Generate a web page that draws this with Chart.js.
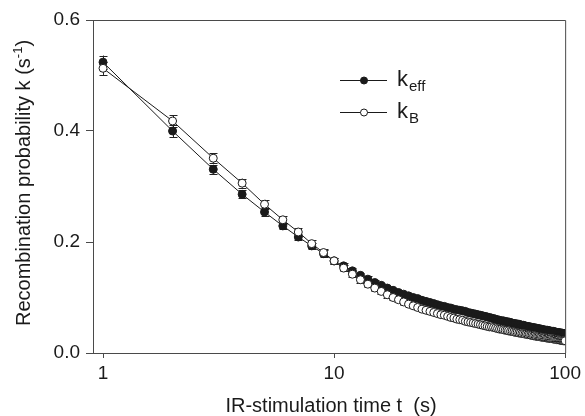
<!DOCTYPE html>
<html>
<head>
<meta charset="utf-8">
<script src="https://cdn.jsdelivr.net/npm/chart.js@4/dist/chart.umd.min.js"></script>
<style>
  html, body { margin: 0; padding: 0; background: #fff; }
  #wrap { width: 585px; height: 416px; }
</style>
</head>
<body>
<div id="wrap"><canvas id="kChart" width="585" height="416"></canvas></div>
<script>
// stimulation times t (s)
const times = [
  1, 2, 3, 4, 5, 6, 7, 8, 9, 10,
  11, 12, 13, 14, 15, 16, 17, 18, 19, 20,
  21, 22, 23, 24, 25, 26, 27, 28, 29, 30,
  31, 32, 33, 34, 35, 36, 37, 38, 39, 40,
  41, 42, 43, 44, 45, 46, 47, 48, 49, 50,
  51, 52, 53, 54, 55, 56, 57, 58, 59, 60,
  61, 62, 63, 64, 65, 66, 67, 68, 69, 70,
  71, 72, 73, 74, 75, 76, 77, 78, 79, 80,
  81, 82, 83, 84, 85, 86, 87, 88, 89, 90,
  91, 92, 93, 94, 95, 96, 97, 98, 99, 100
];

const kEff = [
  0.524, 0.400, 0.331, 0.286, 0.254, 0.229, 0.209, 0.193, 0.179, 0.166,
  0.157, 0.148, 0.140, 0.133, 0.127, 0.122, 0.117, 0.113, 0.109, 0.106,
  0.103, 0.100, 0.098, 0.095, 0.093, 0.091, 0.089, 0.087, 0.085, 0.084,
  0.082, 0.081, 0.079, 0.078, 0.077, 0.076, 0.075, 0.073, 0.072, 0.071,
  0.070, 0.069, 0.068, 0.067, 0.066, 0.065, 0.064, 0.063, 0.062, 0.061,
  0.060, 0.059, 0.058, 0.058, 0.057, 0.056, 0.056, 0.055, 0.054, 0.053,
  0.053, 0.052, 0.052, 0.051, 0.050, 0.050, 0.049, 0.048, 0.048, 0.047,
  0.047, 0.046, 0.046, 0.045, 0.045, 0.044, 0.044, 0.043, 0.043, 0.042,
  0.042, 0.041, 0.041, 0.041, 0.040, 0.040, 0.039, 0.039, 0.039, 0.038,
  0.038, 0.037, 0.037, 0.037, 0.036, 0.036, 0.036, 0.035, 0.035, 0.035
];

const kB = [
  0.513, 0.418, 0.351, 0.306, 0.268, 0.240, 0.218, 0.197, 0.181, 0.166,
  0.153, 0.142, 0.132, 0.124, 0.117, 0.111, 0.105, 0.100, 0.096, 0.092,
  0.088, 0.085, 0.082, 0.079, 0.077, 0.075, 0.073, 0.071, 0.069, 0.068,
  0.066, 0.064, 0.063, 0.061, 0.060, 0.059, 0.057, 0.056, 0.055, 0.054,
  0.053, 0.052, 0.051, 0.050, 0.049, 0.048, 0.047, 0.047, 0.046, 0.045,
  0.044, 0.043, 0.043, 0.042, 0.041, 0.041, 0.040, 0.039, 0.039, 0.038,
  0.037, 0.037, 0.036, 0.036, 0.035, 0.035, 0.034, 0.034, 0.033, 0.033,
  0.032, 0.032, 0.031, 0.031, 0.030, 0.030, 0.030, 0.029, 0.029, 0.028,
  0.028, 0.028, 0.027, 0.027, 0.027, 0.026, 0.026, 0.026, 0.025, 0.025,
  0.025, 0.024, 0.024, 0.024, 0.023, 0.023, 0.023, 0.022, 0.022, 0.022
];

// error bars (only the early ones are visible, the rest hide under markers)
const kEffErr = [
  0.012, 0.011, 0.008, 0.007, 0.007, 0.006, 0.006, 0.006, 0.006, 0.005,
  0.005, 0.005, 0.005, 0.005, 0.005, 0.005, 0.004, 0.004, 0.004, 0.004,
  0.004, 0.004, 0.004, 0.004, 0.004, 0.004, 0.004, 0.004, 0.004, 0.004
];
const kBErr = [
  0.012, 0.010, 0.009, 0.008, 0.008, 0.007, 0.007, 0.006, 0.006, 0.006,
  0.006, 0.005, 0.005, 0.005, 0.005, 0.005, 0.005, 0.005, 0.005, 0.005,
  0.004, 0.004, 0.004, 0.004, 0.004, 0.004, 0.004, 0.004, 0.004, 0.004
];

const xTicks = [1, 10, 100];
const yTicks = [0, 0.2, 0.4, 0.6];

const FONT = "'Liberation Sans', Arial, sans-serif";
const AXIS = "#4a4a4a";
const INK = "#1a1a1a";

function toPoints(ys) {
  return times.map((t, i) => ({ x: t, y: ys[i] }));
}

const errorBars = {
  id: "errorBars",
  beforeDatasetsDraw(chart) {
    const ctx = chart.ctx;
    const y = chart.scales.y;
    const errs = [kEffErr, kBErr];
    ctx.save();
    ctx.strokeStyle = "#222";
    ctx.lineWidth = 1;
    chart.data.datasets.forEach((ds, di) => {
      const meta = chart.getDatasetMeta(di);
      const e = errs[di];
      meta.data.forEach((pt, j) => {
        if (j >= e.length) return;
        const v = ds.data[j].y;
        const top = y.getPixelForValue(v + e[j]);
        const bot = y.getPixelForValue(v - e[j]);
        const px = Math.round(pt.x) + 0.5;
        ctx.beginPath();
        ctx.moveTo(px, top); ctx.lineTo(px, bot);
        ctx.moveTo(px - 4, Math.round(top) + 0.5); ctx.lineTo(px + 4, Math.round(top) + 0.5);
        ctx.moveTo(px - 4, Math.round(bot) + 0.5); ctx.lineTo(px + 4, Math.round(bot) + 0.5);
        ctx.stroke();
      });
    });
    ctx.restore();
  }
};

const frameAndText = {
  id: "frameAndText",
  afterDraw(chart) {
    const ctx = chart.ctx;
    const a = chart.chartArea;
    ctx.save();
    // frame: top and right, short overhang on the left like the original
    ctx.strokeStyle = AXIS;
    ctx.lineWidth = 1;
    ctx.beginPath();
    ctx.moveTo(a.left - 5, a.top + 0.5); ctx.lineTo(a.right + 0.5, a.top + 0.5);
    ctx.lineTo(a.right + 0.5, a.bottom);
    ctx.moveTo(a.left - 5, a.bottom + 0.5); ctx.lineTo(a.left, a.bottom + 0.5);
    ctx.stroke();

    // legend
    const rows = [
      { y: 80, fill: INK, main: "k", sub: "eff" },
      { y: 112, fill: "#fff", main: "k", sub: "B" }
    ];
    rows.forEach(r => {
      ctx.strokeStyle = INK;
      ctx.beginPath();
      ctx.moveTo(340, r.y + 0.5); ctx.lineTo(387, r.y + 0.5);
      ctx.stroke();
      ctx.beginPath();
      ctx.arc(364, r.y + 0.5, 3.5, 0, Math.PI * 2);
      ctx.fillStyle = r.fill;
      ctx.fill();
      ctx.stroke();
      ctx.fillStyle = INK;
      ctx.textBaseline = "alphabetic";
      ctx.textAlign = "left";
      ctx.font = "22px " + FONT;
      ctx.fillText(r.main, 397, r.y + 6);
      const w = ctx.measureText(r.main).width;
      ctx.font = "15px " + FONT;
      ctx.fillText(r.sub, 397 + w + 1, r.y + 11);
    });

    // y title with superscript
    ctx.save();
    ctx.translate(30, 183);
    ctx.rotate(-Math.PI / 2);
    ctx.fillStyle = INK;
    ctx.textBaseline = "alphabetic";
    const mainTxt = "Recombination probability k (s";
    const supTxt = "-1";
    const endTxt = ")";
    ctx.font = "20px " + FONT;
    const w1 = ctx.measureText(mainTxt).width;
    const w3 = ctx.measureText(endTxt).width;
    ctx.font = "13px " + FONT;
    const w2 = ctx.measureText(supTxt).width;
    let x0 = -(w1 + w2 + w3) / 2;
    ctx.font = "20px " + FONT;
    ctx.textAlign = "left";
    ctx.fillText(mainTxt, x0, 0);
    ctx.font = "13px " + FONT;
    ctx.fillText(supTxt, x0 + w1, -8);
    ctx.font = "20px " + FONT;
    ctx.fillText(endTxt, x0 + w1 + w2, 0);
    ctx.restore();

    // x title
    ctx.fillStyle = INK;
    ctx.font = "20px " + FONT;
    ctx.textAlign = "center";
    ctx.textBaseline = "alphabetic";
    ctx.fillText("IR-stimulation time t  (s)", 331, 412);
    ctx.restore();
  }
};

const ctx = document.getElementById("kChart").getContext("2d");
window.kChart = new Chart(ctx, {
  type: "line",
  data: {
    datasets: [
      {
        label: "keff",
        data: toPoints(kEff),
        borderColor: INK,
        borderWidth: 1,
        pointRadius: 4,
        pointBorderWidth: 1,
        pointBackgroundColor: INK,
        pointBorderColor: INK,
        tension: 0,
        order: 2
      },
      {
        label: "kB",
        data: toPoints(kB),
        borderColor: INK,
        borderWidth: 1,
        pointRadius: 4,
        pointBorderWidth: 1,
        pointBackgroundColor: "#fff",
        pointBorderColor: INK,
        tension: 0,
        order: 1
      }
    ]
  },
  options: {
    responsive: false,
    animation: false,
    layout: { padding: { top: 20, right: 17, left: 0, bottom: 0 } },
    plugins: {
      legend: { display: false },
      tooltip: { enabled: false }
    },
    scales: {
      x: {
        type: "logarithmic",
        min: 0.905,
        max: 100,
        afterBuildTicks(scale) {
          scale.ticks = xTicks.map(v => ({ value: v, major: true }));
        },
        afterFit(scale) { scale.height = 63; },
        ticks: {
          autoSkip: false,
          maxRotation: 0,
          padding: 4,
          color: INK,
          font: { family: FONT, size: 19 },
          callback: v => String(v)
        },
        grid: {
          display: true,
          drawOnChartArea: false,
          drawTicks: true,
          tickLength: 5,
          color: AXIS
        },
        border: { display: true, color: AXIS, width: 1 }
      },
      y: {
        min: 0,
        max: 0.6,
        afterBuildTicks(scale) {
          scale.ticks = yTicks.map(v => ({ value: v }));
        },
        afterFit(scale) { scale.width = 93; },
        ticks: {
          padding: 6,
          color: INK,
          font: { family: FONT, size: 19 },
          callback: v => v.toFixed(1)
        },
        grid: {
          display: true,
          drawOnChartArea: false,
          drawTicks: true,
          tickLength: 7,
          color: AXIS
        },
        border: { display: true, color: AXIS, width: 1 }
      }
    }
  },
  plugins: [errorBars, frameAndText]
});
</script>
</body>
</html>
